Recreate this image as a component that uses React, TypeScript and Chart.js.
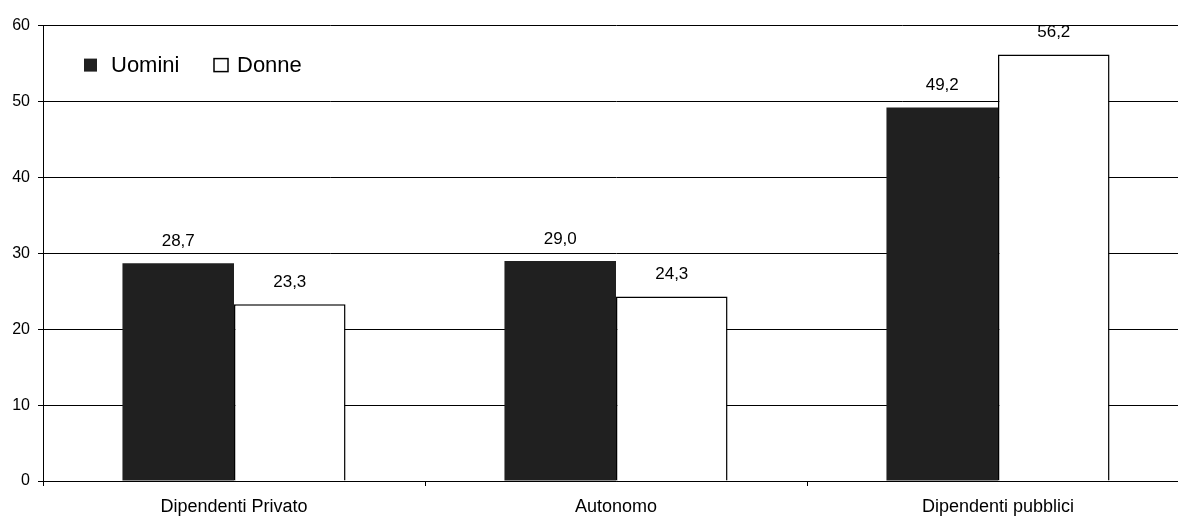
import React, { useEffect, useRef } from "react";
import { Chart, registerables } from "chart.js";

Chart.register(...registerables);

const categories = ["Dipendenti Privato", "Autonomo", "Dipendenti pubblici"];
const uomini = [28.7, 29.0, 49.2];
const donne = [23.3, 24.3, 56.2];
const seriesNames = ["Uomini", "Donne"];
const yTicks = [0, 10, 20, 30, 40, 50, 60];

const FONT = 'Arial, "Liberation Sans", sans-serif';
const DARK = "#202020";

const valueLabels = {
  id: "valueLabels",
  afterDatasetsDraw(chart: any) {
    const ctx = chart.ctx;
    ctx.save();
    ctx.font = `17px ${FONT}`;
    ctx.fillStyle = "#000";
    ctx.textAlign = "center";
    ctx.textBaseline = "middle";
    chart.data.datasets.forEach((ds: any, di: number) => {
      const meta = chart.getDatasetMeta(di);
      meta.data.forEach((el: any, i: number) => {
        const v = ds.data[i] as number;
        const y = Math.max(el.y - 22, chart.chartArea.top - 1);
        ctx.fillText(v.toFixed(1).replace(".", ","), el.x, y);
      });
    });
    ctx.restore();
  },
};

const innerLegend = {
  id: "innerLegend",
  afterDraw(chart: any) {
    const ctx = chart.ctx;
    const a = chart.chartArea;
    ctx.save();
    ctx.font = `22px ${FONT}`;
    ctx.textBaseline = "middle";
    ctx.textAlign = "left";
    const cy = a.top + 40;
    ctx.fillStyle = DARK;
    ctx.fillRect(a.left + 41, cy - 7, 13, 13);
    ctx.fillStyle = "#000";
    ctx.fillText(seriesNames[0], a.left + 68, cy);
    ctx.fillStyle = "#fff";
    ctx.fillRect(a.left + 171, cy - 7, 14, 13);
    ctx.strokeStyle = "#000";
    ctx.lineWidth = 1.5;
    ctx.strokeRect(a.left + 171, cy - 7, 14, 13);
    ctx.fillStyle = "#000";
    ctx.fillText(seriesNames[1], a.left + 194, cy);
    ctx.restore();
  },
};

export default function App() {
  const ref = useRef<HTMLCanvasElement>(null);
  useEffect(() => {
    if (!ref.current) return;
    const chart = new Chart(ref.current, {
      type: "bar",
      data: {
        labels: categories,
        datasets: [
          {
            label: seriesNames[0],
            data: uomini,
            backgroundColor: DARK,
            borderWidth: 0,
            categoryPercentage: 0.584,
            barPercentage: 1.0,
          },
          {
            label: seriesNames[1],
            data: donne,
            backgroundColor: "#ffffff",
            borderColor: "#000000",
            borderWidth: 1.5,
            categoryPercentage: 0.584,
            barPercentage: 1.0,
          },
        ],
      },
      options: {
        responsive: false,
        animation: false,
        devicePixelRatio: 1,
        layout: { padding: { top: 14, right: 0, left: 0, bottom: 0 } },
        plugins: {
          legend: { display: false },
          tooltip: { enabled: false },
        },
        scales: {
          x: {
            offset: true,
            grid: {
              display: true,
              drawOnChartArea: false,
              drawTicks: true,
              tickLength: 5,
              color: "#000",
              offset: true,
            },
            border: { display: true, color: "#000", width: 1 },
            ticks: {
              color: "#000",
              font: { family: FONT, size: 18 },
              padding: 10,
              maxRotation: 0,
            },
            afterFit(scale: any) {
              scale.height = 39;
            },
          },
          y: {
            min: 0,
            max: 60,
            afterBuildTicks(scale: any) {
              scale.ticks = yTicks.map((v) => ({ value: v }));
            },
            grid: {
              color: "#000",
              lineWidth: 1,
              drawTicks: true,
              tickLength: 5,
            },
            border: { display: true, color: "#000", width: 1 },
            ticks: {
              color: "#000",
              font: { family: FONT, size: 16 },
              padding: 8,
            },
            afterFit(scale: any) {
              scale.width = 35;
            },
          },
        },
      },
      plugins: [valueLabels, innerLegend],
    });
    return () => chart.destroy();
  }, []);
  return (
    <div style={{ width: 1178, height: 512, overflow: "hidden" }}>
      <canvas ref={ref} width={1181} height={512} style={{ display: "block" }} />
    </div>
  );
}
